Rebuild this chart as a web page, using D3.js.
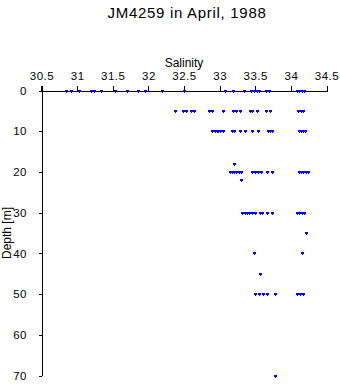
<!DOCTYPE html>
<html>
<head>
<meta charset="utf-8">
<script src="https://cdn.jsdelivr.net/npm/d3@7"></script>
<style>
  html, body { margin: 0; padding: 0; background: #fff; }
  svg { display: block; }
  text { font-family: "Liberation Sans", Arial, Helvetica, sans-serif; fill: #000; }
</style>
</head>
<body>
<svg id="chart" width="340" height="384"></svg>
<script>
// ---- data (salinity readings per sampling depth) ----
const title = "JM4259 in April, 1988";
const xLabel = "Salinity";
const yLabel = "Depth [m]";
const xTicks = [30.5, 31, 31.5, 32, 32.5, 33, 33.5, 34, 34.5];
const yTicks = [0, 10, 20, 30, 40, 50, 60, 70];

const sal0  = [30.84, 30.91, 31.03, 31.19, 31.24, 31.34, 31.53, 31.70, 31.85, 31.95, 32.19, 32.50,
               33.07, 33.19, 33.34, 33.44, 33.48, 33.52, 33.55, 33.65, 33.69, 34.09, 34.12, 34.15, 34.18];
const sal5  = [32.37, 32.48, 32.53, 32.60, 32.64, 32.85, 32.89, 33.05, 33.19, 33.23, 33.28, 33.42,
               33.46, 33.53, 33.65, 33.70, 34.10, 34.14, 34.17];
const sal10 = [32.90, 32.93, 32.96, 32.98, 33.01, 33.05, 33.17, 33.20, 33.29, 33.36, 33.45, 33.54,
               33.68, 33.71, 33.74, 34.11, 34.14, 34.17, 34.20];
const sal18 = [33.20];
const sal20 = [33.14, 33.17, 33.20, 33.23, 33.27, 33.30, 33.46, 33.49, 33.54, 33.58, 33.66, 33.73,
               34.11, 34.14, 34.17, 34.21, 34.24];
const sal22 = [33.30];
const sal30 = [33.32, 33.35, 33.38, 33.41, 33.46, 33.50, 33.56, 33.60, 33.66, 33.74,
               34.09, 34.12, 34.15, 34.19];
const sal35 = [34.21];
const sal40 = [33.48, 34.16];
const sal45 = [33.57];
const sal50 = [33.50, 33.55, 33.61, 33.66, 33.78, 34.08, 34.13, 34.17];
const sal70 = [33.78];

const depthLevels = [0, 5, 10, 18, 20, 22, 30, 35, 40, 45, 50, 70];
const salinityByLevel = [sal0, sal5, sal10, sal18, sal20, sal22, sal30, sal35, sal40, sal45, sal50, sal70];

const points = [];
depthLevels.forEach((d, i) => salinityByLevel[i].forEach(s => points.push({ s: s, d: d })));

// ---- chart ----
const svg = d3.select("#chart");
const x = d3.scaleLinear().domain([30.5, 34.5]).range([41.5, 326.5]);
const y = d3.scaleLinear().domain([0, 70]).range([90.5, 375.5]);

// title
svg.append("text")
  .attr("x", 187).attr("y", 17.5)
  .attr("text-anchor", "middle")
  .style("font-size", "15px")
  .style("letter-spacing", "0.7px")
  .text(title);

// x axis (top)
const gx = svg.append("g")
  .attr("transform", `translate(0,${y(0)})`)
  .call(d3.axisTop(x).tickValues(xTicks).tickFormat(d3.format("")).tickSize(5).tickPadding(6));
gx.selectAll("text")
  .style("font-family", "'Liberation Sans', Arial, sans-serif")
  .style("font-size", "11.5px")
  .style("letter-spacing", "0.5px")
  .attr("fill", "#000");
gx.selectAll("path, line").attr("stroke", "#000").attr("shape-rendering", "crispEdges");

// y axis (left)
const gy = svg.append("g")
  .attr("transform", `translate(${x(30.5)},0)`)
  .call(d3.axisLeft(y).tickValues(yTicks).tickSize(3).tickSizeOuter(0).tickPadding(11.5));
gy.selectAll("text")
  .style("font-family", "'Liberation Sans', Arial, sans-serif")
  .style("font-size", "11.5px")
  .style("letter-spacing", "0.5px")
  .attr("fill", "#000");
gy.selectAll("path, line").attr("stroke", "#000").attr("shape-rendering", "crispEdges");
// extend vertical axis up to the top tick height
gy.append("line")
  .attr("x1", 0).attr("x2", 0)
  .attr("y1", y(0) - 5).attr("y2", y(0))
  .attr("stroke", "#000").attr("shape-rendering", "crispEdges");

// axis titles
svg.append("text")
  .attr("x", 184).attr("y", 67)
  .attr("text-anchor", "middle")
  .style("font-size", "12px")
  .text(xLabel);

svg.append("text")
  .attr("transform", `translate(11,${(y(0) + y(70)) / 2}) rotate(-90)`)
  .attr("text-anchor", "middle")
  .style("font-size", "12px")
  .text(yLabel);

// markers
const gm = svg.append("g").attr("fill", "#0000ff").attr("shape-rendering", "crispEdges");
gm.selectAll("rect.top").data(points).join("rect")
  .attr("class", "top")
  .attr("x", p => Math.round(x(p.s)) - 1)
  .attr("y", p => Math.round(y(p.d)) - 1)
  .attr("width", 3).attr("height", 2);
gm.selectAll("rect.tip").data(points).join("rect")
  .attr("class", "tip")
  .attr("x", p => Math.round(x(p.s)))
  .attr("y", p => Math.round(y(p.d)) + 1)
  .attr("width", 1).attr("height", 1);
</script>
</body>
</html>
